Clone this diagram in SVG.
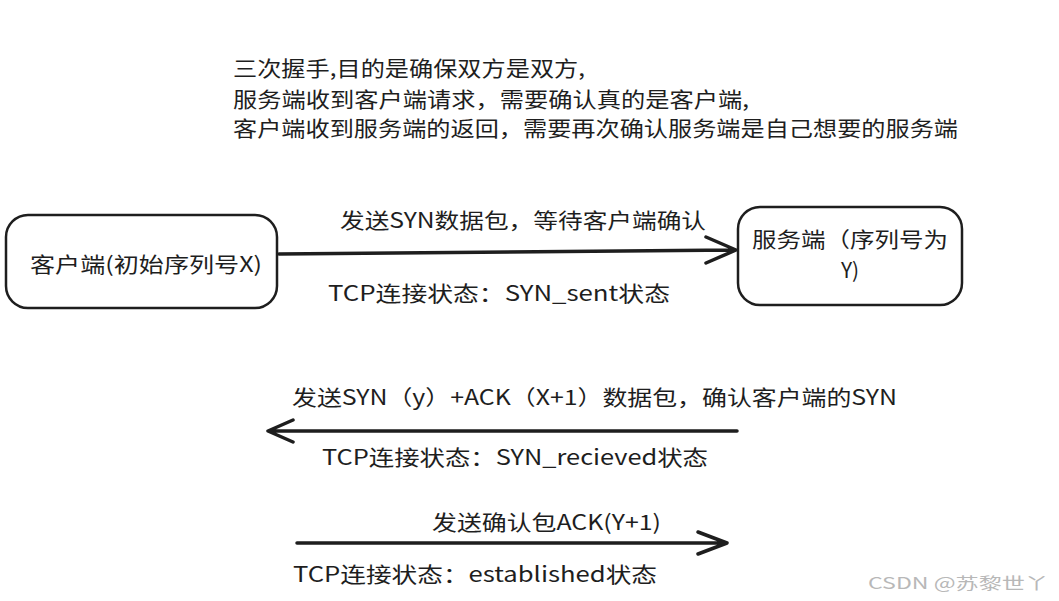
<svg xmlns="http://www.w3.org/2000/svg" width="1059" height="601" viewBox="0 0 1059 601">
<defs>
<style>
.t{font-family:"Noto Sans CJK SC","Noto Sans",sans-serif;fill:#1e1e1e;font-size:21px}
.box{fill:#fff;stroke:#1e1e1e;stroke-width:2.5}
.ln{fill:none;stroke:#1e1e1e;stroke-width:3.5;stroke-linecap:round;stroke-linejoin:round}
.wm{font-family:"Noto Sans CJK SC","Liberation Sans",sans-serif;fill:#b8b8b8;font-size:16px}
</style>
</defs>
<rect width="1059" height="601" fill="#fff"/>
<g id="note">
<text class="t" x="233" y="76" textLength="352" lengthAdjust="spacingAndGlyphs">三次握手,目的是确保双方是双方,</text>
<text class="t" x="233" y="107" textLength="516" lengthAdjust="spacingAndGlyphs">服务端收到客户端请求，需要确认真的是客户端,</text>
<text class="t" x="233" y="136" textLength="725" lengthAdjust="spacingAndGlyphs">客户端收到服务端的返回，需要再次确认服务端是自己想要的服务端</text>
</g>
<g id="client">
<rect class="box" x="6" y="215" width="271" height="93" rx="22"/>
<text class="t" x="30" y="272" textLength="232" lengthAdjust="spacingAndGlyphs">客户端(初始序列号X)</text>
</g>
<g id="server">
<rect class="box" x="738" y="207" width="224" height="98" rx="22"/>
<text class="t" x="752" y="247" textLength="196" lengthAdjust="spacingAndGlyphs">服务端（序列号为</text>
<text class="t" x="850" y="278" text-anchor="middle">Y)</text>
</g>
<g id="connectors">
<path class="ln" d="M279 254 L735 250 M706 237 L736 250 L706 263"/>
<path class="ln" d="M737 431 L268 431 M293 420 L268 431 L293 442"/>
<path class="ln" d="M297 543 L727 543 M698 532 L727 543 L698 554"/>
</g>
<g id="labels">
<text class="t" x="340" y="228" textLength="366" lengthAdjust="spacingAndGlyphs">发送SYN数据包，等待客户端确认</text>
<text class="t" x="328" y="301" textLength="342" lengthAdjust="spacingAndGlyphs">TCP连接状态：SYN_sent状态</text>
<text class="t" x="292" y="405" textLength="605" lengthAdjust="spacingAndGlyphs">发送SYN（y）+ACK（X+1）数据包，确认客户端的SYN</text>
<text class="t" x="322" y="465" textLength="386" lengthAdjust="spacingAndGlyphs">TCP连接状态：SYN_recieved状态</text>
<text class="t" x="432" y="530" textLength="229" lengthAdjust="spacingAndGlyphs">发送确认包ACK(Y+1)</text>
<text class="t" x="293" y="582" textLength="364" lengthAdjust="spacingAndGlyphs">TCP连接状态：established状态</text>
</g>
<text class="wm" x="868" y="589" textLength="180" lengthAdjust="spacingAndGlyphs">CSDN @苏黎世丫</text>
</svg>
